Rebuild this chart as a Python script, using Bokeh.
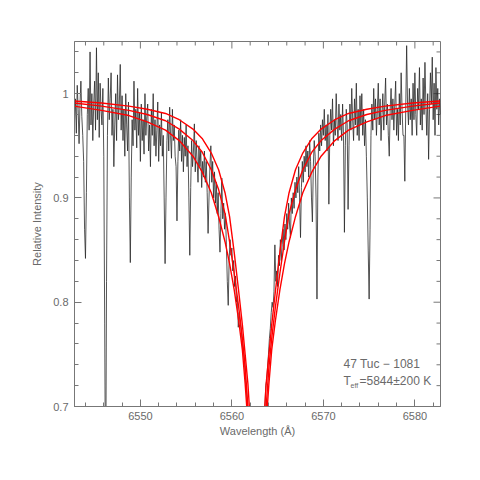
import numpy as np
from bokeh.plotting import figure
from bokeh.models import Range1d, SingleIntervalTicker, CustomJSTickFormatter, Label
from bokeh.embed import file_html
from bokeh.resources import INLINE

# Observed spectrum: sampled every 0.1 A starting at 6542.8 A
wave_start = 6542.8
wave_step = 0.1
flux = [
    0.975, 0.995, 0.962, 1.008, 0.985, 0.952, 0.990, 1.012, 0.978, 0.960,
    0.935, 0.870, 0.842, 0.905, 0.980, 1.005, 0.965, 1.040, 0.970, 1.000,
    0.955, 0.990, 1.012, 0.965, 1.044, 0.975, 1.020, 0.958, 1.010, 0.985,
    0.970, 1.005, 0.940, 0.780, 0.600, 0.820, 0.960, 1.015, 0.975, 0.995,
    1.020, 0.960, 0.985, 0.930, 0.970, 1.000, 0.955, 1.018, 0.975, 0.990,
    1.028, 0.965, 0.998, 0.955, 0.985, 0.940, 1.000, 0.970, 0.945, 0.992,
    0.900, 0.838, 0.920, 0.975, 0.950, 1.012, 0.965, 0.985, 0.948, 1.005,
    0.960, 0.982, 0.935, 0.990, 0.955, 0.975, 0.942, 1.000, 0.960, 0.978,
    0.990, 0.945, 0.970, 0.930, 0.985, 0.960, 1.000, 0.950, 0.975, 0.940,
    0.965, 0.992, 0.935, 0.970, 0.950, 0.982, 0.940, 0.960, 0.900, 0.837,
    0.900, 0.955, 0.975, 0.945, 0.987, 0.960, 0.938, 0.985, 0.955, 0.970,
    0.940, 0.930, 0.878, 0.935, 0.965, 0.945, 0.975, 0.935, 0.960, 0.925,
    0.958, 0.940, 0.970, 0.930, 0.950, 0.900, 0.845, 0.910, 0.955, 0.930,
    0.945, 0.971, 0.925, 0.955, 0.935, 0.915, 0.950, 0.930, 0.945, 0.910,
    0.935, 0.920, 0.945, 0.915, 0.935, 0.905, 0.866, 0.900, 0.930, 0.950,
    0.915, 0.935, 0.900, 0.925, 0.895, 0.915, 0.885, 0.905, 0.870, 0.848,
    0.885, 0.919, 0.880, 0.895, 0.870, 0.885, 0.855, 0.820, 0.797, 0.840,
    0.860, 0.845, 0.852, 0.830, 0.840, 0.815, 0.825, 0.800, 0.805, 0.776,
    0.790, 0.780, 0.775, 0.765, 0.755, 0.750, 0.740, 0.725, 0.715, 0.700,
    0.690, 0.680, 0.660, 0.640, 0.620, 0.600, 0.590, 0.580, 0.580, 0.580,
    0.580, 0.585, 0.590, 0.600, 0.615, 0.635, 0.655, 0.675, 0.695, 0.720,
    0.725, 0.738, 0.750, 0.765, 0.775, 0.790, 0.800, 0.795, 0.810, 0.855,
    0.820, 0.830, 0.815, 0.845, 0.835, 0.860, 0.840, 0.855, 0.870, 0.850,
    0.875, 0.860, 0.885, 0.870, 0.895, 0.875, 0.862, 0.900, 0.885, 0.905,
    0.890, 0.915, 0.900, 0.920, 0.905, 0.930, 0.900, 0.862, 0.910, 0.935,
    0.915, 0.940, 0.925, 0.950, 0.930, 0.945, 0.920, 0.955, 0.935, 0.900,
    0.877, 0.930, 0.955, 0.940, 0.900, 0.803, 0.920, 0.962, 0.945, 0.970,
    0.950, 0.975, 0.960, 0.985, 0.955, 0.970, 0.945, 0.980, 0.894, 0.960,
    0.985, 0.965, 0.995, 0.950, 0.975, 0.960, 1.000, 0.970, 0.955, 0.990,
    0.965, 0.980, 0.955, 0.990, 0.960, 0.867, 0.950, 0.985, 0.970, 0.889,
    0.950, 0.990, 0.965, 1.005, 0.975, 0.955, 0.995, 0.970, 1.010, 0.960,
    0.985, 0.955, 0.998, 0.970, 1.000, 0.960, 0.985, 0.950, 0.975, 0.940,
    0.900, 0.850, 0.803, 0.870, 0.960, 0.990, 0.965, 1.005, 0.975, 0.995,
    0.960, 0.985, 1.010, 0.970, 0.995, 0.955, 0.980, 1.000, 0.965, 0.990,
    1.015, 0.970, 0.990, 0.960, 0.940, 0.985, 1.005, 0.975, 0.995, 0.965,
    0.990, 1.012, 0.960, 0.985, 0.955, 1.000, 0.970, 1.020, 0.985, 0.960,
    0.960, 0.916, 0.985, 1.046, 0.990, 0.970, 1.005, 0.975, 0.995, 0.960,
    1.010, 0.975, 1.020, 0.980, 0.960, 1.005, 0.985, 1.025, 0.970, 0.995,
    0.965, 1.015, 0.980, 1.030, 0.990, 0.960, 1.000, 0.937, 0.985, 1.020,
    0.990, 1.035, 0.975, 1.010, 0.960, 1.025, 0.985, 1.005, 0.970, 0.995,
    0.980,
]
wave = np.round(wave_start + wave_step * np.arange(len(flux)), 2)

# Synthetic H-alpha profiles (three temperatures)
model_wave = [
    6542.75, 6545.75, 6548.75, 6550.75, 6552.75, 6554.25, 6555.75, 6556.75, 6557.75,
    6558.55, 6559.25, 6559.75, 6560.25, 6560.75, 6561.15, 6561.45, 6561.75, 6562.05,
    6563.45, 6563.75, 6564.05, 6564.35, 6564.75, 6565.25, 6565.75, 6566.25, 6566.95,
    6567.75, 6568.75, 6569.75, 6571.25, 6572.75, 6574.75, 6576.75, 6579.75, 6582.75,
]
model_narrow = [
    0.993, 0.991, 0.988, 0.985, 0.981, 0.975, 0.966, 0.957, 0.943,
    0.927, 0.905, 0.882, 0.848, 0.810, 0.778, 0.750, 0.722, 0.680,
    0.680, 0.722, 0.750, 0.778, 0.810, 0.848, 0.882, 0.905, 0.927,
    0.943, 0.957, 0.966, 0.975, 0.981, 0.985, 0.988, 0.991, 0.993,
]
model_mid = [
    0.991, 0.988, 0.984, 0.980, 0.974, 0.966, 0.955, 0.944, 0.927,
    0.908, 0.885, 0.858, 0.828, 0.795, 0.765, 0.738, 0.700, 0.660,
    0.660, 0.700, 0.738, 0.765, 0.795, 0.828, 0.858, 0.885, 0.908,
    0.927, 0.944, 0.955, 0.966, 0.974, 0.980, 0.984, 0.988, 0.991,
]
model_wide = [
    0.988, 0.984, 0.979, 0.973, 0.965, 0.955, 0.940, 0.925, 0.905,
    0.882, 0.858, 0.837, 0.812, 0.782, 0.754, 0.722, 0.684, 0.650,
    0.650, 0.684, 0.722, 0.754, 0.782, 0.812, 0.837, 0.858, 0.882,
    0.905, 0.925, 0.940, 0.955, 0.965, 0.973, 0.979, 0.984, 0.988,
]

x_lo, x_hi = 6542.8, 6582.8
y_lo, y_hi = 0.7, 1.05
x_major_ticks = [6550, 6560, 6570, 6580]
x_minor_ticks = [6544, 6546, 6548, 6552, 6554, 6556, 6558, 6562, 6564, 6566, 6568,
                 6572, 6574, 6576, 6578, 6582]
y_major_ticks = [0.7, 0.8, 0.9, 1.0]
y_minor_ticks = [0.72, 0.74, 0.76, 0.78, 0.82, 0.84, 0.86, 0.88, 0.92, 0.94, 0.96,
                 0.98, 1.02, 1.04]

FONT = "Liberation Sans"
TXT = "#6a6a6a"
AX = "#777777"

p = figure(
    frame_width=366, frame_height=365,
    x_range=Range1d(x_lo, x_hi), y_range=Range1d(y_lo, y_hi),
    output_backend="svg", toolbar_location=None,
    x_axis_label="Wavelength (Å)", y_axis_label="Relative Intensity",
    min_border_left=74, min_border_right=30, min_border_top=41, min_border_bottom=60,
)
p.background_fill_color = "white"
p.border_fill_color = "white"
p.outline_line_color = AX
p.outline_line_width = 1
p.xgrid.visible = False
p.ygrid.visible = False

xt = SingleIntervalTicker(interval=10, num_minor_ticks=5)
yt = SingleIntervalTicker(interval=0.1, num_minor_ticks=5)
yfmt = CustomJSTickFormatter(code="return String(Math.round(tick*10)/10);")

for ax in (p.xaxis[0], p.yaxis[0]):
    ax.major_tick_in = 7
    ax.major_tick_out = 0
    ax.minor_tick_in = 4
    ax.minor_tick_out = 0
    ax.axis_line_color = AX
    ax.major_tick_line_color = AX
    ax.minor_tick_line_color = AX
    ax.major_label_text_font = FONT
    ax.major_label_text_font_size = "11px"
    ax.major_label_text_color = TXT
    ax.axis_label_text_font = FONT
    ax.axis_label_text_font_size = "11px"
    ax.axis_label_text_font_style = "normal"
    ax.axis_label_text_color = TXT

p.xaxis[0].ticker = xt
p.yaxis[0].ticker = yt
p.yaxis[0].formatter = yfmt
p.xaxis[0].major_label_standoff = 5
p.xaxis[0].axis_label_standoff = 2
p.yaxis[0].major_label_standoff = 6
p.yaxis[0].axis_label_standoff = 7

# inward ticks on the top and right frame edges (the glyphs are clipped to the frame)
p.scatter(x_major_ticks, [y_hi] * len(x_major_ticks), marker="dash", angle=np.pi / 2,
          size=14, line_color=AX, line_width=1)
p.scatter(x_minor_ticks, [y_hi] * len(x_minor_ticks), marker="dash", angle=np.pi / 2,
          size=8, line_color=AX, line_width=1)
p.scatter([x_hi] * len(y_major_ticks), y_major_ticks, marker="dash",
          size=14, line_color=AX, line_width=1)
p.scatter([x_hi] * len(y_minor_ticks), y_minor_ticks, marker="dash",
          size=8, line_color=AX, line_width=1)

p.line(wave, flux, line_color="#2a2a2a", line_width=0.8)
for m in (model_narrow, model_mid, model_wide):
    p.line(model_wave, m, line_color="#ff0000", line_width=1.4)

lab_x = 6572.2
p.add_layout(Label(x=lab_x, y=0.741, text="47 Tuc  −  1081", text_font=FONT,
                   text_font_size="12px", text_color=TXT, text_baseline="middle"))
p.add_layout(Label(x=lab_x, y=0.724, text="T", text_font=FONT,
                   text_font_size="12px", text_color=TXT, text_baseline="middle"))
p.add_layout(Label(x=lab_x, y=0.724, x_offset=7, y_offset=-4, text="eff", text_font=FONT,
                   text_font_size="7px", text_color=TXT, text_baseline="middle"))
p.add_layout(Label(x=lab_x, y=0.724, x_offset=16, text="=5844±200 K", text_font=FONT,
                   text_font_size="12px", text_color=TXT, text_baseline="middle"))

open("out.html", "w").write(file_html(p, INLINE))
